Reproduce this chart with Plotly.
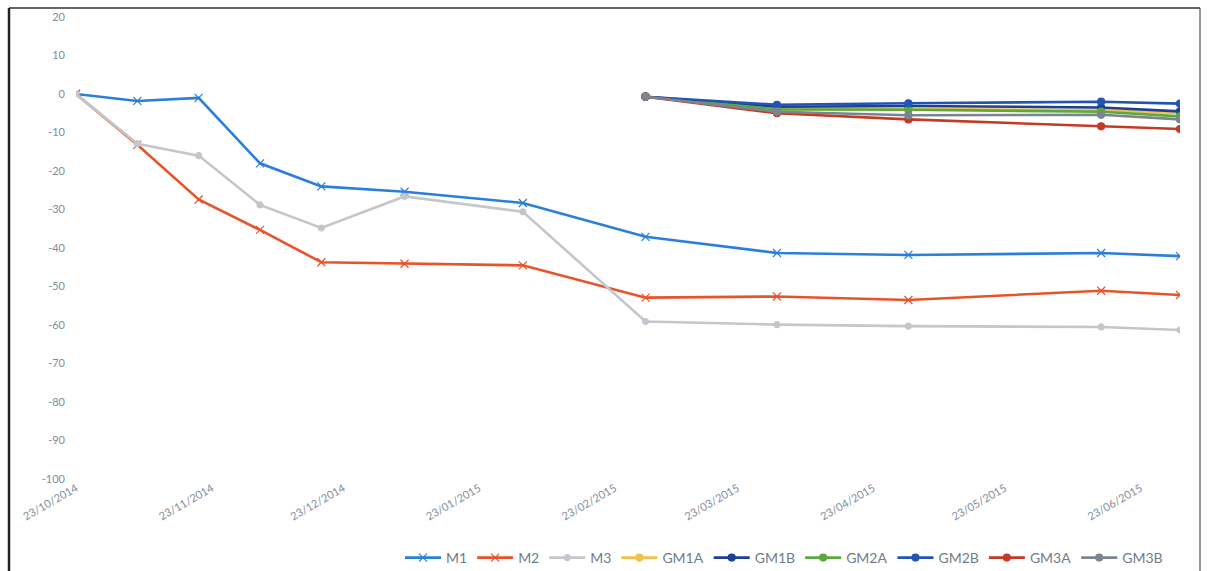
import plotly.graph_objects as go

# Sampling dates
dates = ["2014-10-23", "2014-11-06", "2014-11-20", "2014-12-04", "2014-12-18",
         "2015-01-06", "2015-02-02", "2015-03-02", "2015-04-01", "2015-05-01",
         "2015-06-14", "2015-07-02"]
gm_dates = ["2015-03-02", "2015-04-01", "2015-05-01", "2015-06-14", "2015-07-02"]

m1 = [0, -1.8, -1.0, -18.0, -24.0, -25.4, -28.3, -37.1, -41.3, -41.8, -41.3, -42.1]
m2 = [0, -13.2, -27.4, -35.3, -43.7, -44.1, -44.5, -52.9, -52.6, -53.5, -51.1, -52.2]
m3 = [0, -12.9, -16.0, -28.8, -34.8, -26.6, -30.6, -59.1, -59.9, -60.3, -60.5, -61.3]

gm1a = [-0.7, -3.8, -3.9, -4.2, -5.0]
gm1b = [-0.7, -3.3, -3.1, -3.5, -4.5]
gm2a = [-0.7, -4.0, -4.1, -4.6, -5.8]
gm2b = [-0.7, -2.8, -2.4, -2.0, -2.5]
gm3a = [-0.7, -5.0, -6.6, -8.4, -9.1]
gm3b = [-0.7, -4.6, -5.5, -5.4, -6.6]

tick_dates = ["2014-10-23", "2014-11-23", "2014-12-23", "2015-01-23", "2015-02-23",
              "2015-03-23", "2015-04-23", "2015-05-23", "2015-06-23"]
tick_text = ["23/10/2014", "23/11/2014", "23/12/2014", "23/01/2015", "23/02/2015",
             "23/03/2015", "23/04/2015", "23/05/2015", "23/06/2015"]
y_ticks = list(range(-100, 21, 10))
y_text = [str(v) for v in y_ticks]

W, H = 1208, 571
ML, MR, MT, MB = 76, 28, 17, 92

fig = go.Figure()

def add_series(name, x, y, color, symbol, size, width=2.6):
    fig.add_trace(go.Scatter(
        x=x, y=y, name=name, mode="lines+markers",
        line=dict(color=color, width=width),
        marker=dict(symbol=symbol, size=size, color=color,
                    line=dict(color=color, width=1.2)),
    ))

add_series("M1", dates, m1, "#2A7FD8", "x-thin", 8)
add_series("M2", dates, m2, "#E8542A", "x-thin", 8)
add_series("M3", dates, m3, "#C4C6CC", "circle", 6)
add_series("GM1A", gm_dates, gm1a, "#F2C14A", "circle", 7)
add_series("GM1B", gm_dates, gm1b, "#1E3F98", "circle", 7)
add_series("GM2A", gm_dates, gm2a, "#5BA840", "circle", 7)
add_series("GM2B", gm_dates, gm2b, "#2155B4", "circle", 7)
add_series("GM3A", gm_dates, gm3a, "#C53A25", "circle", 7)
add_series("GM3B", gm_dates, gm3b, "#7C858E", "circle", 7)

pw = W - ML - MR
ph = H - MT - MB

def px_x(p):
    return (p - ML) / pw

def px_y(p):
    return (H - MB - p) / ph

# Frame around the chart
frame = [
    (9, 8, 9, 575, "#222222", 2.5),
    (9, 8, 1200, 8, "#333333", 1.5),
    (1200, 8, 1200, 575, "#555555", 1.2),
]
for x0, y0, x1, y1, c, w in frame:
    fig.add_shape(type="line", xref="paper", yref="paper",
                  x0=px_x(x0), y0=px_y(y0), x1=px_x(x1), y1=px_y(y1),
                  line=dict(color=c, width=w))

axis_font = dict(family="Lato, Open Sans, sans-serif", size=11, color="#7F8C9A")

fig.update_layout(
    width=W, height=H,
    margin=dict(l=ML, r=MR, t=MT, b=MB, autoexpand=False),
    paper_bgcolor="white", plot_bgcolor="white",
    showlegend=True,
    legend=dict(orientation="h", x=px_x(400), xanchor="left",
                y=px_y(558), yanchor="middle",
                font=dict(family="Lato, Open Sans, sans-serif", size=14, color="#6F7C8A"),
                itemwidth=36, tracegroupgap=0),
    xaxis=dict(type="date", range=["2014-10-23", "2015-07-02"],
               tickvals=tick_dates, ticktext=tick_text, tickangle=-30,
               showgrid=False, zeroline=False, showline=False, ticks="",
               automargin=False, tickfont=axis_font),
    yaxis=dict(range=[-100, 20], tickvals=y_ticks, ticktext=y_text,
               showgrid=False, zeroline=False, showline=False, ticks="",
               automargin=False, ticklabelstandoff=10, tickfont=axis_font),
)

fig.write_html("out.html")
